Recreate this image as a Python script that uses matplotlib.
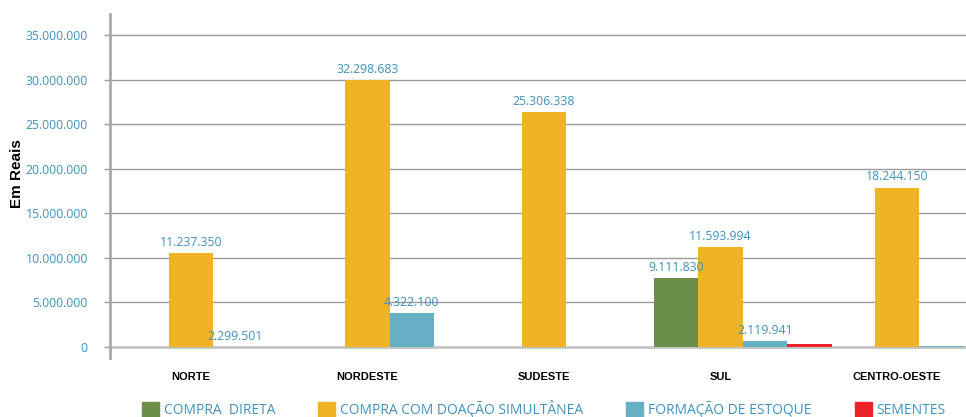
import matplotlib
matplotlib.use("Agg")
import matplotlib.pyplot as plt
import matplotlib.patches as mpatches
from matplotlib.ticker import FuncFormatter
import numpy as np

# Dados (valores das barras lidos no eixo; rótulos como impressos)
regioes = ['NORTE', 'NORDESTE', 'SUDESTE', 'SUL', 'CENTRO-OESTE']
compra_direta = [0, 0, 0, 7.7e6, 0]
compra_doacao = [10.5e6, 30.0e6, 26.4e6, 11.2e6, 17.9e6]
formacao_estoque = [0, 3.8e6, 0, 0.7e6, 0.12e6]
sementes = [0, 0, 0, 0.35e6, 0]

rot_compra_direta = ['', '', '', '9.111.830', '']
rot_compra_doacao = ['11.237.350', '32.298.683', '25.306.338', '11.593.994', '18.244.150']
rot_estoque = ['2.299.501', '4.322.100', '', '2.119.941', '']
rot_sementes = ['', '', '', '', '']

nomes_series = ['COMPRA  DIRETA', 'COMPRA COM DOAÇÃO SIMULTÂNEA',
                'FORMAÇÃO DE ESTOQUE', 'SEMENTES']
yticks = [0, 5e6, 10e6, 15e6, 20e6, 25e6, 30e6, 35e6]

cores = ['#6b8f48', '#f0b323', '#66afc4', '#ec2228']
cor_texto = '#3f92bf'
fonte_azul = 'Open Sans'
fonte_preta = 'Liberation Sans'

fig = plt.figure(figsize=(9.66, 4.17), dpi=100)
ax = fig.add_axes([110 / 966, (417 - 358) / 417, 856 / 966, (358 - 14) / 417])

x = np.arange(len(regioes))
largura = 0.252
series = [compra_direta, compra_doacao, formacao_estoque, sementes]
rotulos = [rot_compra_direta, rot_compra_doacao, rot_estoque, rot_sementes]

handles = []
for j, (vals, rots) in enumerate(zip(series, rotulos)):
    pos = x + (j - 1.5) * largura
    ax.bar(pos, vals, width=largura, color=cores[j], zorder=3)
    for p, v, r in zip(pos, vals, rots):
        if r:
            ax.annotate(r, (p, v), xytext=(0, 3), textcoords='offset points',
                        ha='center', va='bottom', color=cor_texto,
                        fontsize=8.8, family=fonte_azul, zorder=6)
    handles.append(mpatches.Patch(color=cores[j], label=nomes_series[j]))

# eixos
ax.set_xlim(-0.584, 4.266)
ax.set_ylim(-1.24e6, 37.4e6)
ax.set_yticks(yticks)
ax.yaxis.set_major_formatter(FuncFormatter(lambda v, _: f"{int(v):,}".replace(',', '.')))
ax.tick_params(axis='y', length=4, width=1, color='#999999', pad=12,
               labelcolor=cor_texto, labelsize=8.8)
for lab in ax.get_yticklabels():
    lab.set_family(fonte_azul)

ax.set_xticks(x - largura / 2)
ax.set_xticklabels(regioes, fontsize=8, fontweight='bold', family=fonte_preta)
ax.tick_params(axis='x', length=0, pad=10)

ax.yaxis.grid(True, color='#999999', linewidth=1, zorder=0)
ax.axhline(0, color='#c4c4c4', linewidth=2, zorder=1)
ax.set_axisbelow(True)

for s in ['top', 'right', 'bottom']:
    ax.spines[s].set_visible(False)
ax.spines['left'].set_color('#aaaaaa')
ax.spines['left'].set_linewidth(2)

fig.text(17 / 966, 1 - 174 / 417, 'Em Reais', rotation=90, ha='center', va='center',
         fontsize=11, fontweight='bold', family=fonte_preta)

fig.legend(handles=handles, loc='upper left', bbox_to_anchor=(142 / 966, (417 - 400) / 417),
           ncol=4, frameon=False, borderpad=0, borderaxespad=0,
           handlelength=1.22, handleheight=1.22,
           handletextpad=0.35, columnspacing=3.1, labelcolor=cor_texto,
           prop={'family': fonte_azul, 'size': 10})

fig.savefig('out.png', dpi=100)
